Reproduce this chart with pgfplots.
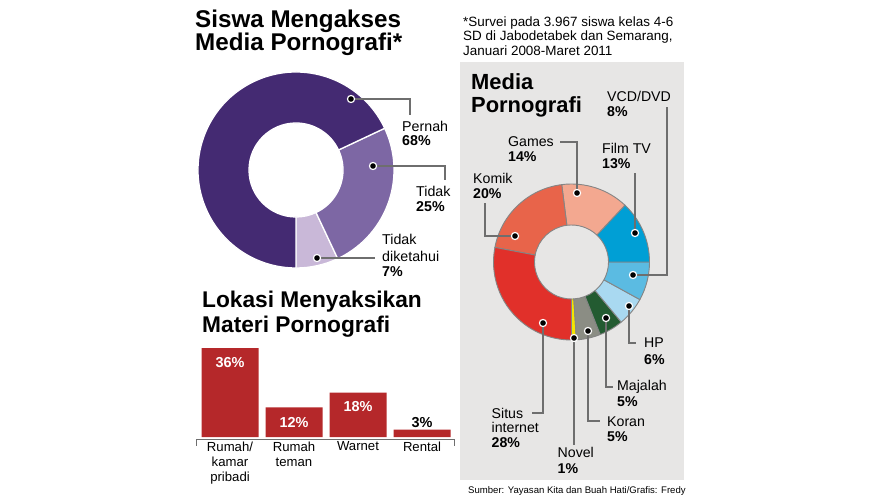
\documentclass[border=0pt]{standalone}
\usepackage{fontspec}
\setmainfont{Liberation Sans}
\usepackage{pgfplots}
\pgfplotsset{compat=1.18}

\definecolor{pernah}{HTML}{442A72}
\definecolor{tidak}{HTML}{7D67A4}
\definecolor{tdk}{HTML}{C9B8D8}
\definecolor{situs}{HTML}{E1302A}
\definecolor{komik}{HTML}{E8644A}
\definecolor{games}{HTML}{F3A890}
\definecolor{filmtv}{HTML}{009FD5}
\definecolor{vcd}{HTML}{5BBBE2}
\definecolor{hp}{HTML}{A9D9F1}
\definecolor{majalah}{HTML}{235B31}
\definecolor{koran}{HTML}{8B8D84}
\definecolor{novel}{HTML}{F3E500}
\definecolor{barred}{HTML}{B5282A}
\definecolor{panelc}{HTML}{E7E6E5}
\definecolor{leadc}{HTML}{6E6E6E}
\definecolor{slicec}{HTML}{858585}

\newcommand\fs[1]{\fontsize{#1}{#1}\selectfont}

% annular sectors, counter-clockwise from 270 degrees; #1 list value/colour, #2 R, #3 r, #4 border colour, #5 border width
\newcommand\donut[5]{%
  \xdef\cum{270}%
  \foreach \vv/\cc in {#1} {%
    \pgfmathsetmacro\nx{\cum+3.6*\vv}%
    \edef\temp{\noexpand\filldraw[fill=\cc, draw=#4, line width=#5, line join=round]
      (axis cs:{#2*cos(\cum)},{#2*sin(\cum)}) arc[start angle=\cum, end angle=\nx, radius=#2bp]
      -- (axis cs:{#3*cos(\nx)},{#3*sin(\nx)}) arc[start angle=\nx, end angle=\cum, radius=#3bp] -- cycle;}%
    \temp
    \xdef\cum{\nx}%
  }%
}
\newcommand\leader[1]{%
  \draw[white, line width=2.4bp] #1;
  \draw[leadc, line width=1.1bp] #1;
}
\newcommand\dotat[1]{%
  \fill[white] (axis cs:#1) circle[radius=4.2bp];
  \fill[black] (axis cs:#1) circle[radius=2.8bp];
}
\newcommand\T[4]{\node[anchor=base west, inner sep=0pt, font=#3] at (#1,#2) {#4};}

\begin{document}
\begin{tikzpicture}[x=1bp,y=-1bp]
\path[use as bounding box] (0,0) rectangle (885,500);
\fill[panelc] (460,62) rectangle (684,480);

% ---------- titles and notes ----------
\T{195}{28}{\fs{24.3}\bfseries}{Siswa Mengakses}
\T{195}{50.5}{\fs{24.3}\bfseries}{Media Pornografi*}
\T{202}{308}{\fs{22.8}\bfseries}{Lokasi Menyaksikan}
\T{202}{333}{\fs{22.8}\bfseries}{Materi Pornografi}
\T{471}{90}{\fs{22}\bfseries}{Media}
\T{471}{113}{\fs{22}\bfseries}{Pornografi}
\T{463}{26.5}{\fs{13.5}}{*Survei pada 3.967 siswa kelas 4-6}
\T{463}{41}{\fs{13.5}}{SD di Jabodetabek dan Semarang,}
\T{463}{55.5}{\fs{13.5}}{Januari 2008-Maret 2011}
\T{468}{493}{\fs{9.6}}{Sumber: Yayasan Kita dan Buah Hati/Grafis: Fredy}

% ---------- donut 1 ----------
\begin{axis}[at={(296bp,-170bp)}, anchor=center, x=1bp, y=1bp,
  xmin=-100, xmax=100, ymin=-100, ymax=100, hide axis, clip=false]
\donut{7/tdk,25/tidak,68/pernah}{98}{47}{white}{1.3bp}
\leader{(axis cs:55,71) -- (axis cs:114,71) -- (axis cs:114,55)}
\leader{(axis cs:77,4) -- (axis cs:149,4) -- (axis cs:149,-10)}
\leader{(axis cs:21,-88) -- (axis cs:79,-88)}
\dotat{55,71}
\dotat{77,4}
\dotat{21,-88}
\end{axis}

\T{402}{131.5}{\fs{14.3}}{Pernah}
\T{402}{145.5}{\fs{14.3}\bfseries}{68\%}
\T{416}{196.5}{\fs{14.3}}{Tidak}
\T{416}{211.5}{\fs{14.3}\bfseries}{25\%}
\T{382}{245}{\fs{14.3}}{Tidak}
\T{382}{261.5}{\fs{14.3}}{diketahui}
\T{382}{276.5}{\fs{14.3}\bfseries}{7\%}

% ---------- donut 2 ----------
\begin{axis}[at={(571.5bp,-262bp)}, anchor=center, x=1bp, y=1bp,
  xmin=-100, xmax=100, ymin=-100, ymax=100, hide axis, clip=false]
\donut{1/novel,5/koran,5/majalah,6/hp,8/vcd,13/filmtv,14/games,20/komik,28/situs}{78}{37}{slicec}{0.9bp}
\leader{(axis cs:5.5,69) -- (axis cs:5.5,120) -- (axis cs:-11.5,120)}
\leader{(axis cs:-56.5,26) -- (axis cs:-86.5,26) -- (axis cs:-86.5,59)}
\leader{(axis cs:63.5,29) -- (axis cs:63.5,89)}
\leader{(axis cs:61.5,-13) -- (axis cs:95.5,-13) -- (axis cs:95.5,155)}
\leader{(axis cs:57.5,-44) -- (axis cs:57.5,-81) -- (axis cs:64.5,-81)}
\leader{(axis cs:34.5,-56) -- (axis cs:34.5,-125) -- (axis cs:41.5,-125)}
\leader{(axis cs:16.5,-69) -- (axis cs:16.5,-159) -- (axis cs:28.5,-159)}
\leader{(axis cs:2.5,-76) -- (axis cs:2.5,-183)}
\leader{(axis cs:-28.5,-61) -- (axis cs:-28.5,-151) -- (axis cs:-39.5,-151)}
\dotat{5.5,69}
\dotat{-56.5,26}
\dotat{63.5,29}
\dotat{61.5,-13}
\dotat{57.5,-44}
\dotat{34.5,-56}
\dotat{16.5,-69}
\dotat{2.5,-76}
\dotat{-28.5,-61}
\end{axis}

\T{508}{146.5}{\fs{14.2}}{Games}
\T{508}{161.5}{\fs{14.2}\bfseries}{14\%}
\T{473}{184}{\fs{14.2}}{Komik}
\T{473}{199}{\fs{14.2}\bfseries}{20\%}
\T{602}{154}{\fs{14.2}}{Film TV}
\T{602}{169}{\fs{14.2}\bfseries}{13\%}
\T{607}{101.5}{\fs{14.2}}{VCD/DVD}
\T{607}{116.5}{\fs{14.2}\bfseries}{8\%}
\T{644}{348}{\fs{14.2}}{HP}
\T{644}{364}{\fs{14.2}\bfseries}{6\%}
\T{617}{390.5}{\fs{14.2}}{Majalah}
\T{617}{406.5}{\fs{14.2}\bfseries}{5\%}
\T{607}{426.5}{\fs{14.2}}{Koran}
\T{607}{441.5}{\fs{14.2}\bfseries}{5\%}
\T{557.5}{457.5}{\fs{14.2}}{Novel}
\T{557.5}{473}{\fs{14.2}\bfseries}{1\%}
\T{491.5}{418}{\fs{14.2}}{Situs}
\T{491.5}{432.5}{\fs{14.2}}{internet}
\T{491.5}{447}{\fs{14.2}\bfseries}{28\%}

% ---------- bar chart ----------
\begin{axis}[at={(198bp,-437bp)}, anchor=south west, x=64bp, y=2.472bp,
  xmin=-0.5, xmax=3.5, ymin=0, ymax=36, enlargelimits=false, clip=false,
  hide y axis, axis x line*=bottom, x axis line style={draw=none},
  major tick length=0pt, ybar, bar width=57bp,
  xtick={0,1,2,3},
  xticklabels={{Rumah/\\kamar\\pribadi},{Rumah\\teman},Warnet,Rental},
  xticklabel style={align=center, anchor=north, inner sep=0pt, yshift=-4.5bp, font=\fontsize{13.2}{15}\selectfont}]
\addplot[fill=barred, draw=none] coordinates {(0,36) (1,12) (2,18) (3,3)};
\draw[leadc, line width=1bp] ([yshift=-8.5bp]axis cs:-0.53,0) -- ([yshift=-2.3bp]axis cs:-0.53,0)
  -- ([yshift=-2.3bp]axis cs:3.5,0) -- ([yshift=-8.5bp]axis cs:3.5,0);
\node[anchor=base, inner sep=0pt, white, font=\fs{14.5}\bfseries, yshift=-19bp] at (axis cs:0,36) {36\%};
\node[anchor=base, inner sep=0pt, white, font=\fs{14.5}\bfseries, yshift=-20.5bp] at (axis cs:1,12) {12\%};
\node[anchor=base, inner sep=0pt, white, font=\fs{14.5}\bfseries, yshift=-19bp] at (axis cs:2,18) {18\%};
\node[anchor=base, inner sep=0pt, black, font=\fs{14.5}\bfseries, yshift=2.5bp] at (axis cs:3,3) {3\%};
\end{axis}
\end{tikzpicture}
\end{document}
